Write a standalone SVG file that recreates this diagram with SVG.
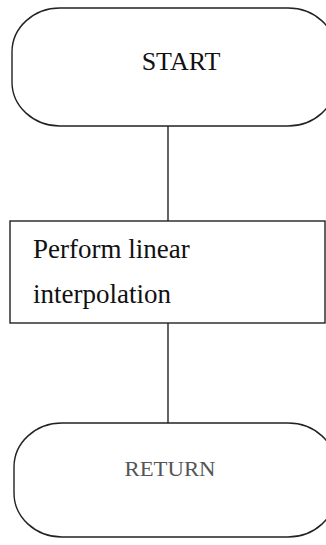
<svg xmlns="http://www.w3.org/2000/svg" width="326" height="545" viewBox="0 0 326 545">
<style>
.shape{fill:#fff;stroke:#222;stroke-width:1.4}
.conn{stroke:#222;stroke-width:1.4;fill:none}
.t{font-family:"Liberation Serif","Times New Roman",serif;fill:#111}
</style>
<rect width="326" height="545" fill="#fff"/>
<g id="connectors">
<line class="conn" x1="168" y1="126" x2="168" y2="221"/>
<line class="conn" x1="168" y1="323" x2="168" y2="423"/>
</g>
<g id="start">
<rect class="shape" x="12" y="8" width="324" height="118" rx="48" ry="44"/>
<text class="t" x="181" y="70" font-size="26" text-anchor="middle">START</text>
</g>
<g id="process">
<rect class="shape" x="10" y="221" width="315" height="102"/>
<text class="t" x="33" y="258" font-size="27">Perform linear</text>
<text class="t" x="33" y="303" font-size="27">interpolation</text>
</g>
<g id="return">
<rect class="shape" x="14" y="423" width="322" height="114" rx="48" ry="44"/>
<text class="t" x="170" y="476" font-size="22" text-anchor="middle" textLength="91" lengthAdjust="spacingAndGlyphs" style="fill:#555">RETURN</text>
</g>
</svg>
